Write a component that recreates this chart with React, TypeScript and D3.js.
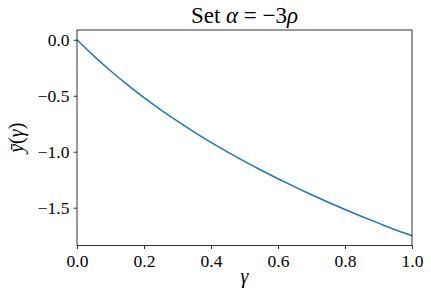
import { useEffect, useRef } from 'react';
import * as d3 from 'd3';

// values
const gammas = [0, 0.05, 0.1, 0.15, 0.2, 0.25, 0.3, 0.35, 0.4, 0.45, 0.5, 0.55, 0.6, 0.65, 0.7, 0.75, 0.8, 0.85, 0.9, 0.95, 1.0];
const ybar = [0, -0.144, -0.277, -0.401, -0.517, -0.625, -0.727, -0.824, -0.916, -1.003, -1.086, -1.165, -1.241, -1.314, -1.384, -1.451, -1.516, -1.578, -1.638, -1.697, -1.75];
const xTicks = [0, 0.2, 0.4, 0.6, 0.8, 1.0];
const yTicks = [0, -0.5, -1.0, -1.5];

const FONT = 'Liberation Serif, DejaVu Serif, serif';

export default function App() {
  const svgRef = useRef<SVGSVGElement>(null);

  useEffect(() => {
    document.body.style.margin = '0';
    if (!svgRef.current) return;
    const svg = d3.select(svgRef.current);
    svg.selectAll('*').remove();

    const W = 431, H = 300;
    const margin = { top: 30, right: 19, bottom: 54.5, left: 77 };
    const width = W - margin.left - margin.right;
    const height = H - margin.top - margin.bottom;

    const yMin = d3.min(ybar)!, yMax = d3.max(ybar)!;
    const pad = (yMax - yMin) * 0.05;

    const x = d3.scaleLinear().domain([0, 1]).range([0, width]);
    const y = d3.scaleLinear().domain([yMin - pad, yMax + pad]).range([height, 0]);

    svg.append('rect').attr('width', W).attr('height', H).attr('fill', '#fff');
    const g = svg.append('g').attr('transform', `translate(${margin.left},${margin.top})`);

    const line = d3.line<number>().x((_, i) => x(gammas[i])).y(d => y(d)).curve(d3.curveMonotoneX);
    g.append('path').datum(ybar).attr('d', line)
      .attr('fill', 'none').attr('stroke', '#1f77b4').attr('stroke-width', 1.5);

    const xAxis = g.append('g').attr('transform', `translate(0,${height})`)
      .call(d3.axisBottom(x).tickValues(xTicks).tickFormat(d3.format('.1f')).tickSize(3.5).tickPadding(6));
    const yAxis = g.append('g')
      .call(d3.axisLeft(y).tickValues(yTicks).tickFormat(d3.format('.1f')).tickSize(3.5).tickPadding(4));
    [xAxis, yAxis].forEach(a => {
      a.attr('font-family', FONT).attr('font-size', 17.5);
      a.select('.domain').remove();
      a.selectAll('line').attr('stroke', '#000').attr('stroke-width', 0.8);
      a.selectAll('text').attr('fill', '#000');
    });

    g.append('rect').attr('width', width).attr('height', height)
      .attr('fill', 'none').attr('stroke', '#000').attr('stroke-width', 0.8);

    svg.append('text').attr('x', margin.left + width / 2).attr('y', 23)
      .attr('text-anchor', 'middle').attr('font-family', FONT).attr('font-size', 23)
      .html('Set <tspan font-style="italic">α</tspan> = −3<tspan font-style="italic">ρ</tspan>');

    svg.append('text').attr('x', margin.left + width / 2).attr('y', 283)
      .attr('text-anchor', 'middle').attr('font-family', FONT).attr('font-size', 20)
      .attr('font-style', 'italic').text('γ');

    svg.append('text').attr('transform', `translate(23,${margin.top + height / 2}) rotate(-90)`)
      .attr('text-anchor', 'middle').attr('font-family', FONT).attr('font-size', 20)
      .html('<tspan font-style="italic">ȳ</tspan>(<tspan font-style="italic">γ</tspan>)');
  }, []);

  return <svg ref={svgRef} width={431} height={300} style={{ display: 'block' }} />;
}
